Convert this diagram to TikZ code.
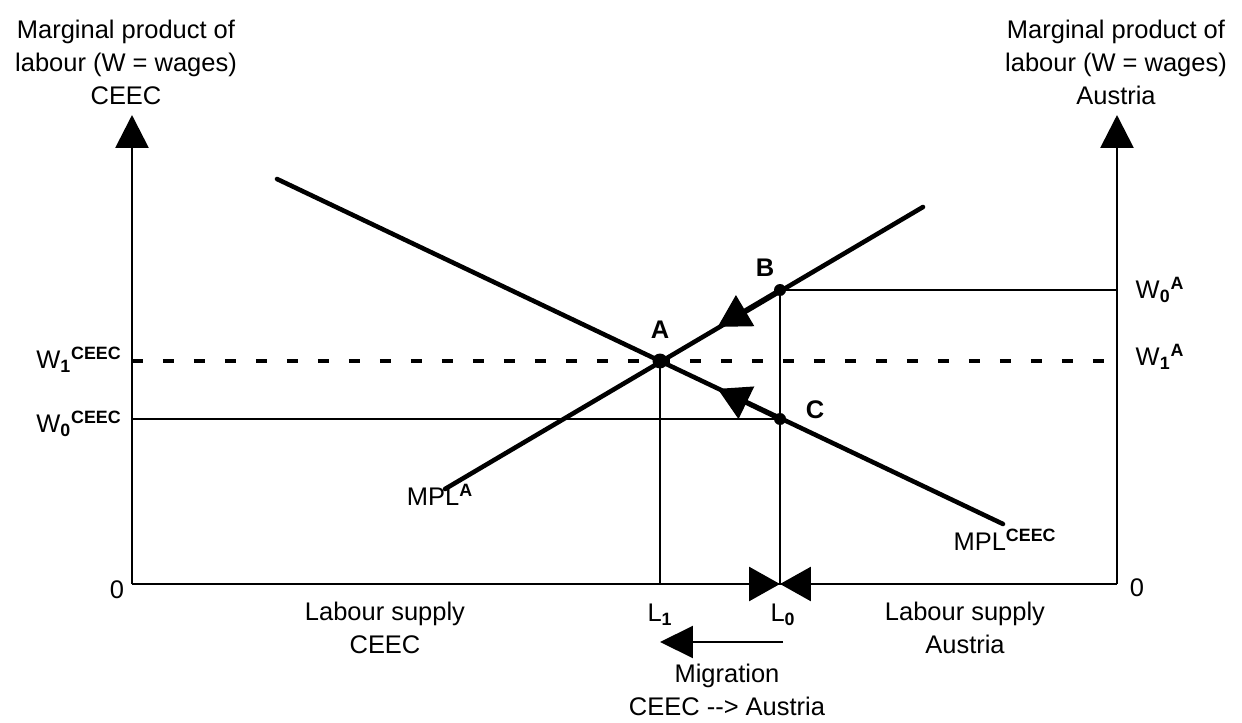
\documentclass[tikz,border=0pt]{standalone}
\usepackage{fontspec}
\setmainfont{Liberation Sans}
\usetikzlibrary{arrows.meta,calc}

\tikzset{
  curve/.style={line width=2.6pt, line cap=round},
  axis/.style={line width=1.6pt},
  guide/.style={line width=0.8pt},
  wdash/.style={line width=2.4pt, dash pattern=on 0.22cm off 0.4cm},
  bigtip/.style={-{Triangle[length=0.66cm,width=0.66cm]}},
  dotpt/.style={circle, fill, inner sep=0pt, minimum size=#1},
  lbl/.style={font=\fontsize{14.5}{18.8}\selectfont, align=center, inner sep=1pt},
  pt/.style={font=\fontsize{14.5}{16}\selectfont\bfseries, inner sep=1pt},
}

\begin{document}
\begin{tikzpicture}[x=0.02cm, y=-0.02cm]
\useasboundingbox (0,0) rectangle (1242,723);

% Achsen
\coordinate (O1) at (132,584);
\coordinate (O2) at (1117,584);
\coordinate (Y1) at (132,115);
\coordinate (Y2) at (1117,115);
\draw[axis] (O1) -- (O2);
\draw[axis, bigtip] (O1) -- (Y1);
\draw[axis, bigtip] (O2) -- (Y2);

% Punkte A, B, C
\coordinate (A) at (660,361);
\coordinate (B) at (780,290);
\coordinate (C) at (780,419);

% Hilfslinien
\draw[wdash] (A -| O1) -- (A -| O2);
\draw[guide] (C) -- (C -| O1);
\draw[guide] (B) -- (B -| O2);
\draw[guide] (A) -- (A |- O1);
\draw[guide] (B) -- (B |- O1);

% Grenzprodukt-Kurven
\coordinate (mpla1) at (445,489);
\coordinate (mpla2) at (923,207);
\coordinate (mplc1) at (277,179);
\coordinate (mplc2) at (1003,524);
\draw[curve] (mpla1) -- (mpla2);
\draw[curve] (mplc1) -- (mplc2);

% Bewegung zum Gleichgewicht
\draw[curve, line cap=butt, -{Triangle[length=0.64cm,width=0.7cm]}] (B) -- ($(B)!0.52!(A)$);
\draw[curve, line cap=butt, -{Triangle[length=0.64cm,width=0.7cm]}] (C) -- ($(C)!0.52!(A)$);

\node[dotpt=0.3cm] (dA) at (A) {};
\node[dotpt=0.24cm] (dB) at (B) {};
\node[dotpt=0.24cm] (dC) at (C) {};

% Schleife bei L0
\coordinate (L0) at (780,584);
\coordinate (bwl) at (749,584);
\coordinate (bwr) at (812,584);
\draw[axis, -{Triangle[length=0.62cm,width=0.68cm]}] (bwl) -- (L0);
\draw[axis, -{Triangle[length=0.62cm,width=0.68cm]}] (bwr) -- (L0);

% Migration
\coordinate (mig0) at (783,642);
\coordinate (mig1) at (660,642);
\draw[line width=1.2pt, -{Triangle[length=0.66cm,width=0.64cm]}] (mig0) -- (mig1);

% Beschriftung
\node[lbl] (ttlL) at (126,62) {Marginal product of\\labour (W = wages)\\CEEC};
\node[lbl] (ttlR) at (1116,62) {Marginal product of\\labour (W = wages)\\Austria};
\node[lbl] (zeroL) at (117,590) {0};
\node[lbl] (zeroR) at (1137,588) {0};
\node[lbl] (w1c) at (79,360) {W\textsubscript{\bfseries 1}\textsuperscript{\bfseries CEEC}};
\node[lbl] (w0c) at (79,424) {W\textsubscript{\bfseries 0}\textsuperscript{\bfseries CEEC}};
\node[lbl] (w0a) at (1160,290) {W\textsubscript{\bfseries 0}\textsuperscript{\bfseries A}};
\node[lbl] (w1a) at (1160,357) {W\textsubscript{\bfseries 1}\textsuperscript{\bfseries A}};
\node[pt] (lA) at (660,330) {A};
\node[pt] (lB) at (765,268) {B};
\node[pt] (lC) at (815,410) {C};
\node[lbl] (lmpla) at (440,495) {MPL\textsuperscript{\bfseries A}};
\node[lbl] (lmplc) at (1005,540) {MPL\textsuperscript{\bfseries CEEC}};
\node[lbl] (lL1) at (660,615) {L\textsubscript{\bfseries 1}};
\node[lbl] (lL0) at (783,615) {L\textsubscript{\bfseries 0}};
\node[lbl] (lsC) at (385,628) {Labour supply\\CEEC};
\node[lbl] (lsA) at (965,628) {Labour supply\\Austria};
\node[lbl] (migr) at (727,690) {Migration\\CEEC -{}-> Austria};
\end{tikzpicture}
\end{document}
